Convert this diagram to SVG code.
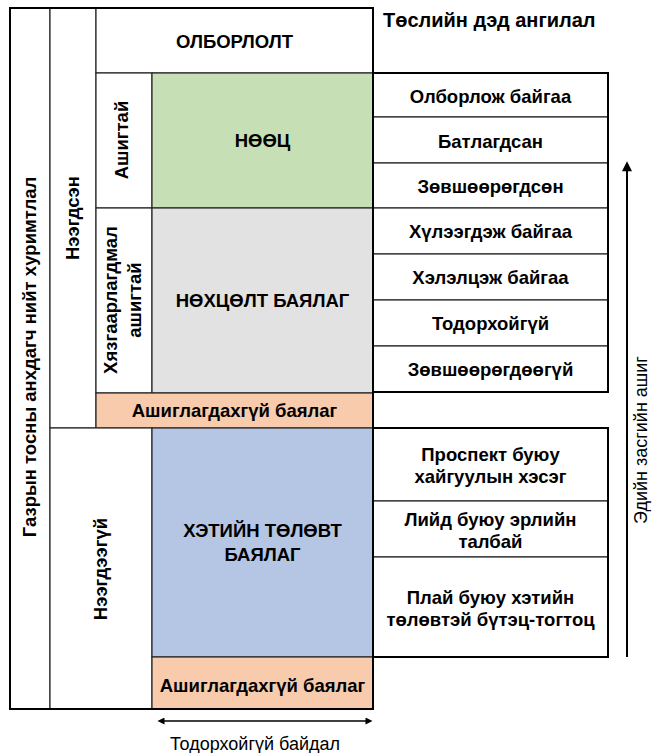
<svg xmlns="http://www.w3.org/2000/svg" width="653" height="753" viewBox="0 0 653 753">
<style>
.cell{stroke:#262626;stroke-width:1.2}
.frame{fill:none;stroke:#000;stroke-width:2}
.t{font-family:"Liberation Sans",Arial,sans-serif;font-weight:bold;font-size:18.5px;fill:#000;text-anchor:middle}
.big{font-size:18.5px}
.n{font-family:"Liberation Sans",Arial,sans-serif;font-size:18px;fill:#000;text-anchor:middle}
.w{fill:#fff}.g{fill:#C6DFB5}.gr{fill:#E2E2E2}.o{fill:#F8CBAD}.b{fill:#B4C6E4}
.arr{fill:none;stroke:#000}
</style>
<defs>
<marker id="ahBig" viewBox="0 0 10 10" refX="6.2" refY="5" markerWidth="13" markerHeight="10" markerUnits="userSpaceOnUse" orient="auto-start-reverse"><path d="M0,0 L10,5 L0,10 z" fill="#000"/></marker>
<marker id="ahSmall" viewBox="0 0 10 10" refX="5" refY="5" markerWidth="8" markerHeight="7" markerUnits="userSpaceOnUse" orient="auto-start-reverse"><path d="M0,0 L10,5 L0,10 z" fill="#000"/></marker>
</defs>
<rect width="653" height="753" fill="#fff"/>

<g id="total">
<rect class="cell w" x="10" y="8" width="40" height="701"/>
<text class="t" transform="rotate(-90 30 357)" x="30" y="363">Газрын тосны анхдагч нийт хуримтлал</text>
</g>
<g id="discovered">
<rect class="cell w" x="50" y="8" width="46" height="420"/>
<text class="t" transform="rotate(-90 73 218)" x="73" y="224">Нээгдсэн</text>
</g>
<g id="production">
<rect class="cell w" x="96" y="8" width="277" height="65"/>
<text class="t big" x="234.5" y="48">ОЛБОРЛОЛТ</text>
</g>
<g id="commercial">
<rect class="cell w" x="96" y="73" width="56" height="135"/>
<text class="t" transform="rotate(-90 122 140)" x="122" y="146">Ашигтай</text>
</g>
<g id="reserves">
<rect class="cell g" x="152" y="73" width="221" height="135"/>
<text class="t big" x="262.5" y="147">НӨӨЦ</text>
</g>
<g id="subcommercial">
<rect class="cell w" x="96" y="208" width="56" height="185"/>
<text class="t" transform="rotate(-90 124 300)" x="124" y="293">Хязгаарлагдмал</text>
<text class="t" transform="rotate(-90 124 300)" x="124" y="317">ашигтай</text>
</g>
<g id="contingent">
<rect class="cell gr" x="152" y="208" width="221" height="185"/>
<text class="t big" x="262.5" y="307">НӨХЦӨЛТ БАЯЛАГ</text>
</g>
<g id="unrecoverable1">
<rect class="cell o" x="96" y="393" width="277" height="35"/>
<text class="t" x="234.5" y="417">Ашиглагдахгүй баялаг</text>
</g>
<g id="undiscovered">
<rect class="cell w" x="50" y="428" width="102" height="281"/>
<text class="t" transform="rotate(-90 101 569)" x="101" y="575">Нээгдээгүй</text>
</g>
<g id="prospective">
<rect class="cell b" x="152" y="428" width="221" height="229"/>
<text class="t big" x="262.5" y="537">ХЭТИЙН ТӨЛӨВТ</text>
<text class="t big" x="262.5" y="561">БАЯЛАГ</text>
</g>
<g id="unrecoverable2">
<rect class="cell o" x="152" y="657" width="221" height="52"/>
<text class="t" x="262.5" y="692">Ашиглагдахгүй баялаг</text>
</g>
<rect class="frame" x="10" y="8" width="363" height="701"/>

<g id="subclass-title">
<text class="t" style="font-size:20px;text-anchor:start" x="383" y="27">Төслийн дэд ангилал</text>
</g>

<g id="sub-onproduction"><rect class="cell w" x="373" y="73" width="235" height="44"/><text class="t" x="490.5" y="103">Олборлож байгаа</text></g>
<g id="sub-approved"><rect class="cell w" x="373" y="117" width="235" height="46"/><text class="t" x="490.5" y="148">Батлагдсан</text></g>
<g id="sub-justified"><rect class="cell w" x="373" y="163" width="235" height="45"/><text class="t" x="490.5" y="193">Зөвшөөрөгдсөн</text></g>
<g id="sub-pending"><rect class="cell w" x="373" y="208" width="235" height="46"/><text class="t" x="490.5" y="238">Хүлээгдэж байгаа</text></g>
<g id="sub-onhold"><rect class="cell w" x="373" y="254" width="235" height="46"/><text class="t" x="490.5" y="284">Хэлэлцэж байгаа</text></g>
<g id="sub-unclarified"><rect class="cell w" x="373" y="300" width="235" height="46"/><text class="t" x="490.5" y="330">Тодорхойгүй</text></g>
<g id="sub-notviable"><rect class="cell w" x="373" y="346" width="235" height="46"/><text class="t" x="490.5" y="376">Зөвшөөрөгдөөгүй</text></g>
<rect class="frame" x="373" y="73" width="235" height="319"/>

<g id="sub-prospect"><rect class="cell w" x="373" y="428" width="235" height="73"/><text class="t" x="490.5" y="461">Проспект буюу</text><text class="t" x="490.5" y="483">хайгуулын хэсэг</text></g>
<g id="sub-lead"><rect class="cell w" x="373" y="501" width="235" height="56"/><text class="t" x="490.5" y="526">Лийд буюу эрлийн</text><text class="t" x="490.5" y="548">талбай</text></g>
<g id="sub-play"><rect class="cell w" x="373" y="557" width="235" height="100"/><text class="t" x="490.5" y="604">Плай буюу хэтийн</text><text class="t" x="490.5" y="626">төлөвтэй бүтэц-тогтоц</text></g>
<rect class="frame" x="373" y="428" width="235" height="229"/>

<g id="connectors">
<path class="arr" d="M627,657 L627,165" stroke-width="2" marker-end="url(#ahBig)"/>
<path class="arr" d="M161,721 L369,721" stroke-width="1.5" marker-start="url(#ahSmall)" marker-end="url(#ahSmall)"/>
</g>
<g id="axis-labels">
<text class="n" transform="rotate(-90 640 440)" x="640" y="447">Эдийн засгийн ашиг</text>
<text class="n" x="255" y="750">Тодорхойгүй байдал</text>
</g>
</svg>
